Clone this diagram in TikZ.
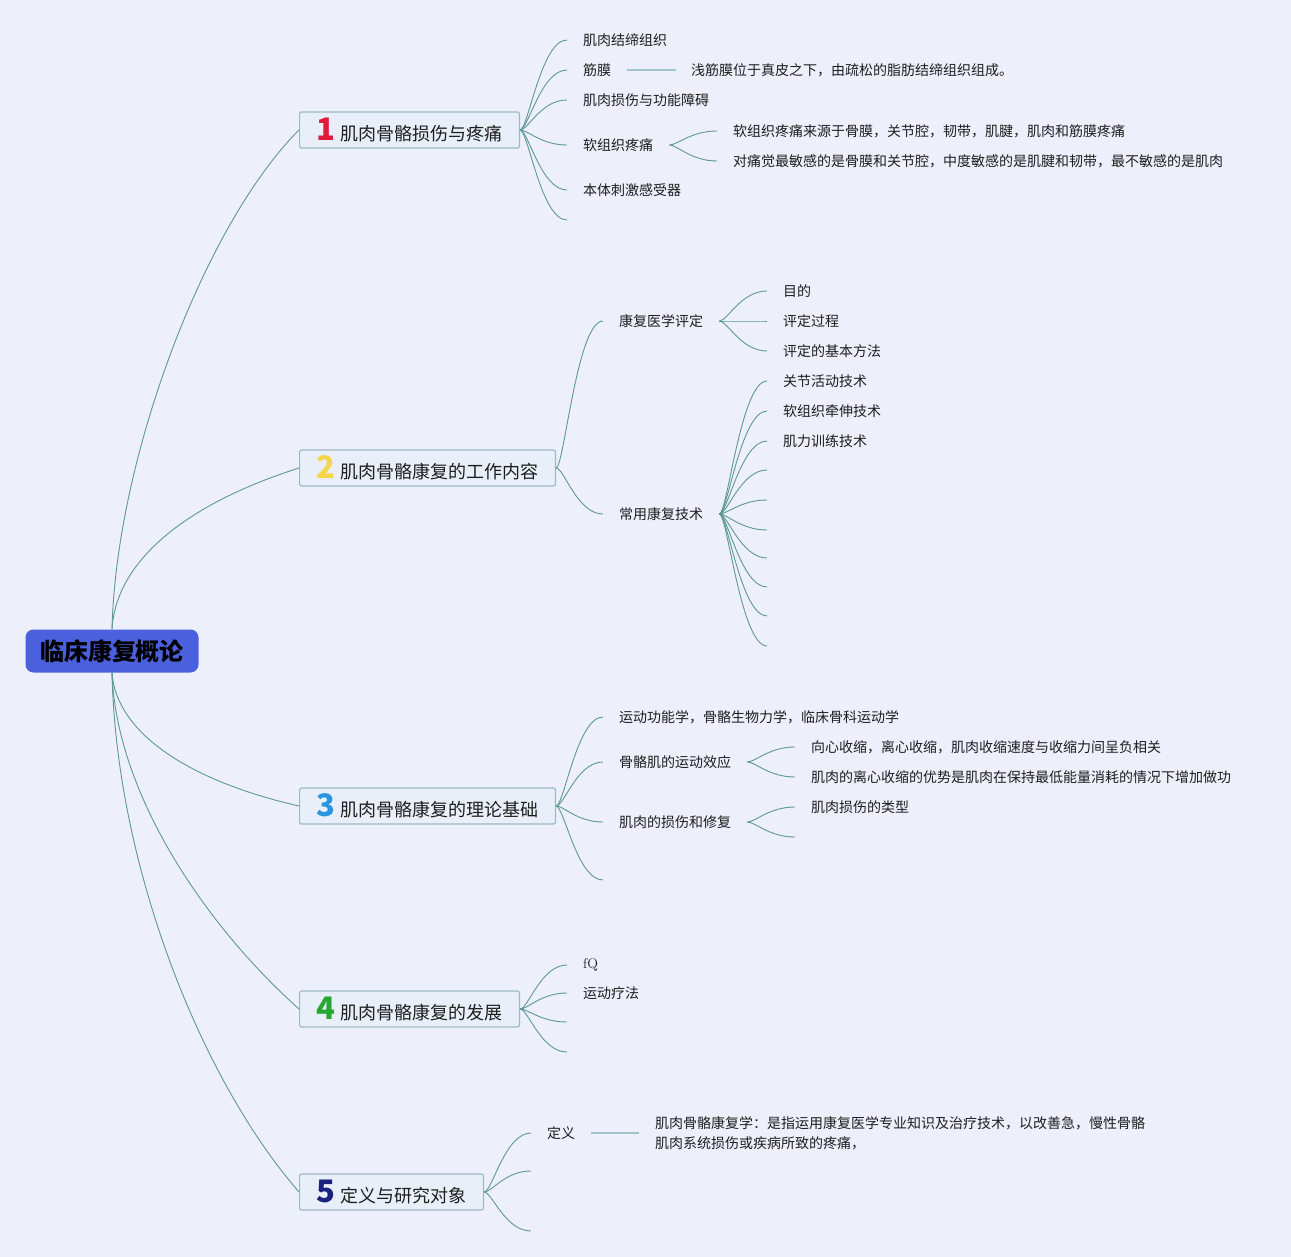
\documentclass[tikz,border=0pt]{standalone}
\usepackage{fontspec}
\usepackage{xcolor}
\usepackage{tikz}
\newfontfamily\cjk{Noto Sans CJK SC}
\definecolor{bgc}{RGB}{237,240,251}
\definecolor{rootc}{RGB}{74,96,220}
\definecolor{boxc}{RGB}{157,186,196}
\definecolor{boxfill}{RGB}{233,239,248}
\definecolor{linkc}{RGB}{94,152,146}
\definecolor{plainc}{RGB}{160,196,202}
\definecolor{txtc}{RGB}{30,30,30}
\definecolor{numa}{RGB}{225,25,60}
\definecolor{numb}{RGB}{246,214,70}
\definecolor{numc}{RGB}{40,150,225}
\definecolor{numd}{RGB}{40,165,50}
\definecolor{nume}{RGB}{25,35,125}
\newcommand{\marknum}[2]{{\fontsize{31}{31}\selectfont\bfseries\color{#1}#2}\hspace{5pt}}

\begin{document}
\begin{tikzpicture}[x=1pt,y=-1pt,
  link/.style={draw=linkc,line width=0.9pt},
  plainlink/.style={draw=plainc,line width=1.4pt},
  leaf/.style={anchor=west,inner xsep=16pt,inner ysep=2pt,text=txtc,font=\cjk\fontsize{14}{20}\selectfont},
  topic/.style={anchor=west,draw=boxc,fill=boxfill,line width=1.2pt,rounded corners=2pt,inner xsep=17pt,inner ysep=0pt,minimum height=36pt,text=txtc,font=\cjk\fontsize{18}{22}\selectfont},
  rootbox/.style={fill=rootc,rounded corners=8pt,minimum width=173pt,minimum height=43pt,text=black,font=\cjk\bfseries\fontsize{24}{28}\selectfont}]
\fill[bgc] (0,0) rectangle (1291,1257);
\useasboundingbox (0,0) rectangle (1291,1257);
% root and main topics
\node[rootbox] (root) at (112,651) {临床康复概论};
\node[topic] (b1) at (299,130) {\marknum{numa}{1}肌肉骨骼损伤与疼痛};
\node[topic] (b2) at (299,468) {\marknum{numb}{2}肌肉骨骼康复的工作内容};
\node[topic] (b3) at (299,806) {\marknum{numc}{3}肌肉骨骼康复的理论基础};
\node[topic] (b4) at (299,1009) {\marknum{numd}{4}肌肉骨骼康复的发展};
\node[topic] (b5) at (299,1192) {\marknum{nume}{5}定义与研究对象};
\draw[link] (root.north) .. controls +(4,-170) and +(-95,95) .. (b1.west);
\draw[link] (root.north) .. controls +(4,-70) and +(-110,35) .. (b2.west);
\draw[link] (root.south) .. controls +(4,60) and +(-110,-25) .. (b3.west);
\draw[link] (root.south) .. controls +(4,120) and +(-95,-85) .. (b4.west);
\draw[link] (root.south) .. controls +(4,190) and +(-100,-115) .. (b5.west);
% 1
\node[leaf] (l11) at (567,40) {肌肉结缔组织};
\node[leaf] (l12) at (567,70) {筋膜};
\node[leaf] (l13) at (567,100) {肌肉损伤与功能障碍};
\node[leaf] (l14) at (567,145) {软组织疼痛};
\node[leaf] (l15) at (567,190) {本体刺激感受器};
\coordinate (e16) at (567,220);
\foreach \n in {l11.west,l12.west,l13.west,l14.west,l15.west,e16}
  \draw[link] (b1.east) .. controls +(8,0) and +(-26,0) .. (\n);
\node[leaf,inner xsep=15pt] (l121) at (676,70) {浅筋膜位于真皮之下，由疏松的脂肪结缔组织组成。};
\draw[plainlink] (l12.east) -- (l121.west);
\node[leaf] (l141) at (717,131) {软组织疼痛来源于骨膜，关节腔，韧带，肌腱，肌肉和筋膜疼痛};
\node[leaf] (l142) at (717,161) {对痛觉最敏感的是骨膜和关节腔，中度敏感的是肌腱和韧带，最不敏感的是肌肉};
\foreach \n in {l141,l142}
  \draw[link] (l14.east) .. controls +(8,0) and +(-26,0) .. (\n.west);
% 2
\node[leaf] (l21) at (603,321) {康复医学评定};
\node[leaf] (l22) at (603,514) {常用康复技术};
\foreach \n in {l21,l22}
  \draw[link] (b2.east) .. controls +(8,0) and +(-26,0) .. (\n.west);
\node[leaf] (l211) at (767,291) {目的};
\node[leaf] (l212) at (767,321) {评定过程};
\node[leaf] (l213) at (767,351) {评定的基本方法};
\foreach \n in {l211,l212,l213}
  \draw[link] (l21.east) .. controls +(8,0) and +(-26,0) .. (\n.west);
\node[leaf] (l221) at (767,381) {关节活动技术};
\node[leaf] (l222) at (767,411) {软组织牵伸技术};
\node[leaf] (l223) at (767,441) {肌力训练技术};
\foreach \n in {l221,l222,l223}
  \draw[link] (l22.east) .. controls +(8,0) and +(-26,0) .. (\n.west);
\foreach \y [count=\i] in {470,500,530,558,587,616,646} {
  \coordinate (e22\i) at (767,\y);
  \draw[link] (l22.east) .. controls +(8,0) and +(-26,0) .. (e22\i);
}
% 3
\node[leaf] (l31) at (603,717) {运动功能学，骨骼生物力学，临床骨科运动学};
\node[leaf] (l32) at (603,762) {骨骼肌的运动效应};
\node[leaf] (l33) at (603,822) {肌肉的损伤和修复};
\coordinate (e34) at (603,880);
\foreach \n in {l31.west,l32.west,l33.west,e34}
  \draw[link] (b3.east) .. controls +(8,0) and +(-26,0) .. (\n);
\node[leaf] (l321) at (795,747) {向心收缩，离心收缩，肌肉收缩速度与收缩力间呈负相关};
\node[leaf] (l322) at (795,777) {肌肉的离心收缩的优势是肌肉在保持最低能量消耗的情况下增加做功};
\foreach \n in {l321,l322}
  \draw[link] (l32.east) .. controls +(8,0) and +(-26,0) .. (\n.west);
\node[leaf] (l331) at (795,807) {肌肉损伤的类型};
\coordinate (e332) at (795,837);
\foreach \n in {l331.west,e332}
  \draw[link] (l33.east) .. controls +(8,0) and +(-26,0) .. (\n);
% 4
\node[leaf,font=\fontsize{14}{20}\selectfont] (l41) at (567,965) {fQ};
\node[leaf] (l42) at (567,993) {运动疗法};
\coordinate (e43) at (567,1022);
\coordinate (e44) at (567,1052);
\foreach \n in {l41.west,l42.west,e43,e44}
  \draw[link] (b4.east) .. controls +(8,0) and +(-26,0) .. (\n);
% 5
\node[leaf] (l51) at (531,1133) {定义};
\coordinate (e52) at (531,1171);
\coordinate (e53) at (531,1231);
\foreach \n in {l51.west,e52,e53}
  \draw[link] (b5.east) .. controls +(8,0) and +(-26,0) .. (\n);
\node[leaf,align=left] (l511) at (639,1133) {肌肉骨骼康复学：是指运用康复医学专业知识及治疗技术，以改善急，慢性骨骼\\肌肉系统损伤或疾病所致的疼痛，};
\draw[plainlink] (l51.east) -- (l511.west);
\end{tikzpicture}
\end{document}
